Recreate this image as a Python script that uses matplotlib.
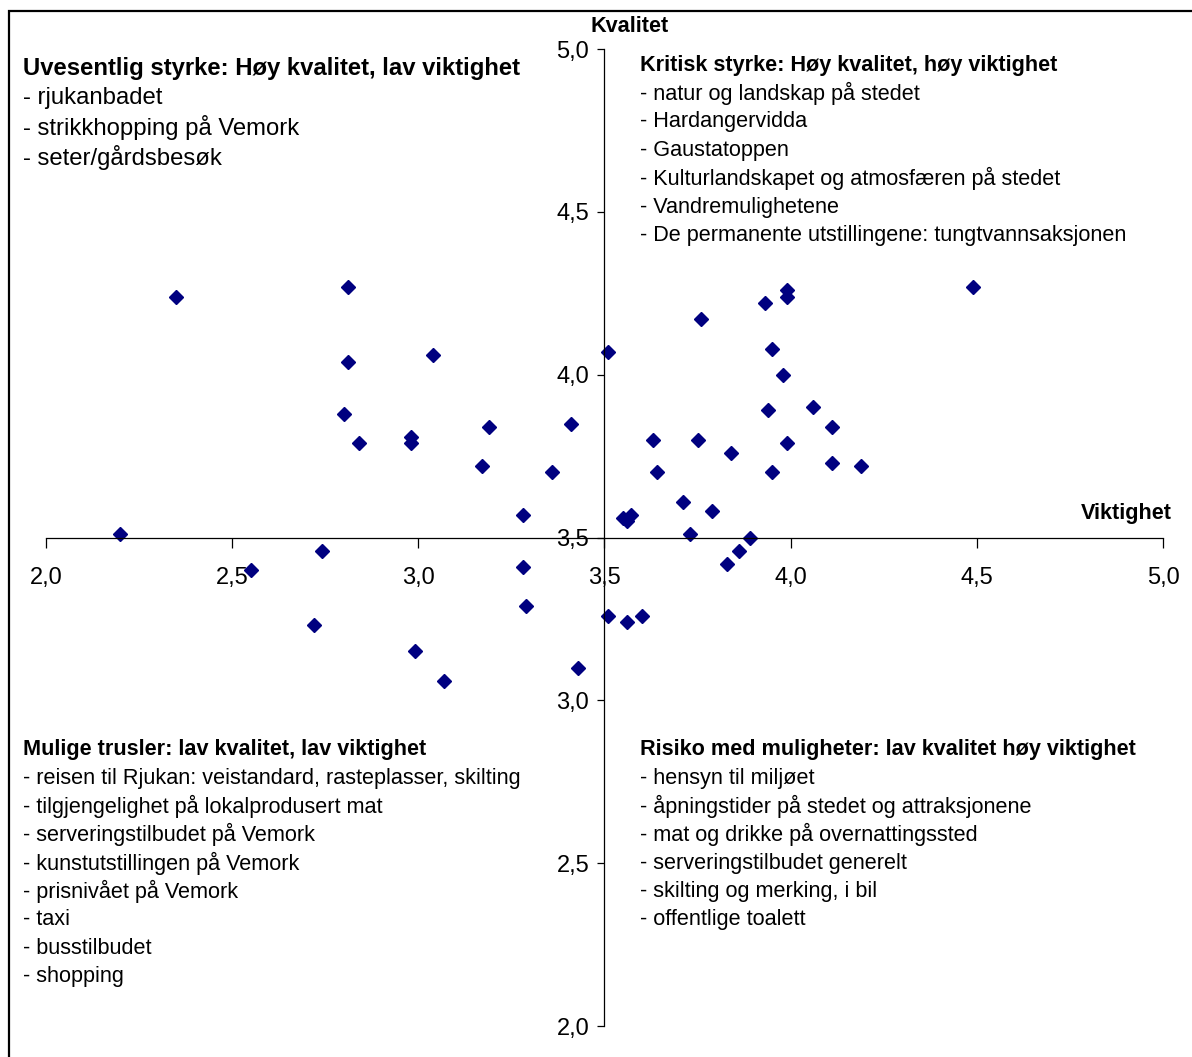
import matplotlib
matplotlib.use('Agg')
import matplotlib.pyplot as plt
from matplotlib.ticker import FuncFormatter, MultipleLocator
from matplotlib.patches import Rectangle

plt.rcParams['font.family'] = ['Liberation Sans', 'DejaVu Sans']

# data: (viktighet, kvalitet)
viktighet = [2.20, 2.35, 2.81, 2.81, 3.04, 2.80, 2.84, 2.98, 2.98, 3.19,
             3.41, 3.17, 3.36, 3.28, 2.74, 3.51, 4.49, 3.99, 3.99, 3.93,
             3.76, 3.95, 3.98, 4.06, 3.94, 4.11, 3.99, 3.63, 3.75, 3.84,
             4.11, 4.19, 3.64, 3.95, 3.71, 3.79, 3.55, 3.56, 3.57, 3.73,
             3.89, 3.86, 3.83, 3.51, 3.56, 3.60, 2.55, 3.28, 3.29, 2.72,
             2.99, 3.07, 3.43]
kvalitet = [3.51, 4.24, 4.27, 4.04, 4.06, 3.88, 3.79, 3.81, 3.79, 3.84,
            3.85, 3.72, 3.70, 3.57, 3.46, 4.07, 4.27, 4.26, 4.24, 4.22,
            4.17, 4.08, 4.00, 3.90, 3.89, 3.84, 3.79, 3.80, 3.80, 3.76,
            3.73, 3.72, 3.70, 3.70, 3.61, 3.58, 3.56, 3.55, 3.57, 3.51,
            3.50, 3.46, 3.42, 3.26, 3.24, 3.26, 3.40, 3.41, 3.29, 3.23,
            3.15, 3.06, 3.10]

ul_title = 'Uvesentlig styrke: Høy kvalitet, lav viktighet'
ul_items = ['- rjukanbadet', '- strikkhopping på Vemork', '- seter/gårdsbesøk']
ur_title = 'Kritisk styrke: Høy kvalitet, høy viktighet'
ur_items = ['- natur og landskap på stedet', '- Hardangervidda', '- Gaustatoppen',
            '- Kulturlandskapet og atmosfæren på stedet', '- Vandremulighetene',
            '- De permanente utstillingene: tungtvannsaksjonen']
ll_title = 'Mulige trusler: lav kvalitet, lav viktighet'
ll_items = ['- reisen til Rjukan: veistandard, rasteplasser, skilting',
            '- tilgjengelighet på lokalprodusert mat', '- serveringstilbudet på Vemork',
            '- kunstutstillingen på Vemork', '- prisnivået på Vemork', '- taxi',
            '- busstilbudet', '- shopping']
lr_title = 'Risiko med muligheter: lav kvalitet høy viktighet'
lr_items = ['- hensyn til miljøet', '- åpningstider på stedet og attraksjonene',
            '- mat og drikke på overnattingssted', '- serveringstilbudet generelt',
            '- skilting og merking, i bil', '- offentlige toalett']

W, H = 1192, 1057
fig = plt.figure(figsize=(W / 100, H / 100), dpi=100)

# axes box in pixels
x0, x1, y0, y1 = 46, 1163, 49, 1026
ax = fig.add_axes([x0 / W, 1 - y1 / H, (x1 - x0) / W, (y1 - y0) / H])
ax.set_xlim(2, 5)
ax.set_ylim(2, 5)
ax.patch.set_alpha(0)

ax.spines['top'].set_visible(False)
ax.spines['right'].set_visible(False)
ax.spines['left'].set_position(('data', 3.5))
ax.spines['bottom'].set_position(('data', 3.5))
for s in ('left', 'bottom'):
    ax.spines[s].set_linewidth(0.9)

fmt = FuncFormatter(lambda v, p: f'{v:.1f}'.replace('.', ','))
ax.xaxis.set_major_locator(MultipleLocator(0.5))
ax.yaxis.set_major_locator(MultipleLocator(0.5))
ax.xaxis.set_major_formatter(fmt)
ax.yaxis.set_major_formatter(fmt)
ax.tick_params(axis='x', direction='out', length=7, width=0.9, pad=14, labelsize=17)
ax.tick_params(axis='y', direction='out', length=5, width=0.9, pad=6, labelsize=17)

ax.plot(viktighet, kvalitet, linestyle='none', marker='D', ms=6.8,
        color='#000080', mec='#000080', clip_on=False)

# outer border
fig.patches.append(Rectangle((9 / W, -0.05), 1.1, 1 - 11 / H + 0.05,
                             transform=fig.transFigure, fill=False,
                             edgecolor='black', linewidth=1.6))

# axis titles
fig.text(590 / W, 1 - 27 / H, 'Kvalitet', fontsize=15.6, fontweight='bold',
         ha='left', va='center')
fig.text(1172 / W, 1 - 514 / H, 'Viktighet', fontsize=15.6, fontweight='bold',
         ha='right', va='center')


def block(x, y, title, items, size, step):
    fig.text(x / W, 1 - y / H, title, fontsize=size, fontweight='bold',
             ha='left', va='center')
    for i, line in enumerate(items):
        fig.text(x / W, 1 - (y + step * (i + 1)) / H, line, fontsize=size,
                 ha='left', va='center')


block(23, 68, ul_title, ul_items, 17.2, 29.8)
block(640, 65, ur_title, ur_items, 15.6, 28.4)
block(23, 750, ll_title, ll_items, 15.6, 28.3)
block(640, 750, lr_title, lr_items, 15.6, 28.3)

fig.savefig('out.png', dpi=100)
